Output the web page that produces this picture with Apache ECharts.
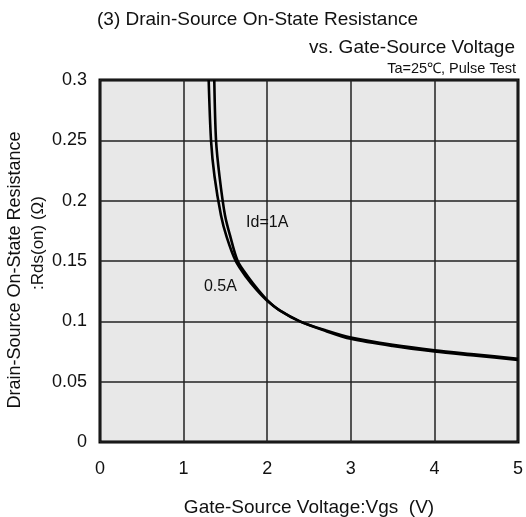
<!DOCTYPE html>
<html>
<head>
<meta charset="utf-8">
<script src="https://cdn.jsdelivr.net/npm/echarts@6/dist/echarts.min.js"></script>
<style>html,body{margin:0;padding:0;background:#fff;}#c{width:526px;height:517px;}</style>
</head>
<body>
<div id="c"></div>
<script>
const titleLine1 = "(3) Drain-Source On-State Resistance";
const titleLine2 = "vs. Gate-Source Voltage";
const condition = "Ta=25\u2103, Pulse Test";
const xAxisName = "Gate-Source Voltage:Vgs  (V)";
const yAxisName1 = "Drain-Source On-State Resistance";
const yAxisName2 = ":Rds(on) (\u03A9)";

// Vgs (V), Rds(on) (ohm)
const id05A = [[1.30,0.30],[1.328,0.25],[1.37,0.22],[1.447,0.188],[1.515,0.17],[1.623,0.15],[1.75,0.1365],[1.874,0.126],[2.0,0.117],[2.15,0.109],[2.39,0.1],[2.7,0.092],[3,0.0855],[3.5,0.0795],[4,0.075],[4.5,0.0715],[5,0.068]];
const id1A = [[1.367,0.30],[1.388,0.25],[1.43,0.22],[1.495,0.188],[1.56,0.17],[1.647,0.15],[1.77,0.137],[1.894,0.126],[2.01,0.117],[2.15,0.109],[2.39,0.1],[2.7,0.0925],[3,0.0865],[3.5,0.0805],[4,0.076],[4.5,0.0725],[5,0.069]];

const labels = [{text:"Id=1A", coord:[2.0,0.182]},{text:"0.5A", coord:[1.44,0.129]}];

const FONT = "Liberation Sans, Arial, sans-serif";
const chart = echarts.init(document.getElementById('c'), null, {renderer:'canvas'});

function mp(l){
  return {symbol:'circle', symbolSize:0, silent:true, data:[{coord:l.coord, label:{show:true, position:'inside', formatter:l.text, color:'#111', fontSize:16, fontFamily:FONT}}]};
}

chart.setOption({
  animation:false,
  backgroundColor:'#fff',
  grid:{left:100, right:8, top:80, bottom:75, containLabel:false, outerBoundsMode:'none', show:true, backgroundColor:'#e8e8e8', borderColor:'#000', borderWidth:3},
  title:[
    {text:titleLine1, left:92, top:5, textStyle:{fontSize:19, fontWeight:'normal', color:'#111', fontFamily:FONT}},
    {text:titleLine2, right:6, top:33, textStyle:{fontSize:19, fontWeight:'normal', color:'#111', fontFamily:FONT}},
    {text:condition, right:5, top:56, textStyle:{fontSize:14.5, fontWeight:'normal', color:'#111', fontFamily:FONT}}
  ],
  graphic:[
    {type:'text', x:15, y:270, rotation:Math.PI/2, style:{text:yAxisName1, fill:'#111', font:'18px '+FONT, textAlign:'center', textVerticalAlign:'middle'}},
    {type:'text', x:38, y:243, rotation:Math.PI/2, style:{text:yAxisName2, fill:'#111', font:'17px '+FONT, textAlign:'center', textVerticalAlign:'middle'}}
  ],
  xAxis:{type:'value', min:0, max:5, interval:1,
    name:xAxisName, nameLocation:'middle', nameGap:56, nameTextStyle:{fontSize:19, color:'#111', fontFamily:FONT},
    axisLine:{show:false}, axisTick:{show:false},
    axisLabel:{fontSize:18, color:'#111', margin:18, fontFamily:FONT},
    splitLine:{show:true, lineStyle:{color:'#222', width:1.5}}},
  yAxis:{type:'value', min:0, max:0.3, interval:0.05,
    axisLine:{show:false}, axisTick:{show:false},
    axisLabel:{fontSize:18, color:'#111', margin:13, fontFamily:FONT},
    splitLine:{show:true, lineStyle:{color:'#222', width:1.5}}},
  series:[
    {type:'line', name:'0.5A', data:id05A, smooth:0.3, showSymbol:false, symbol:'none', clip:true, lineStyle:{color:'#000', width:2.6}, markPoint:mp(labels[1])},
    {type:'line', name:'1A', data:id1A, smooth:0.3, showSymbol:false, symbol:'none', clip:true, lineStyle:{color:'#000', width:2.6}, markPoint:mp(labels[0])}
  ]
});
</script>
</body>
</html>
